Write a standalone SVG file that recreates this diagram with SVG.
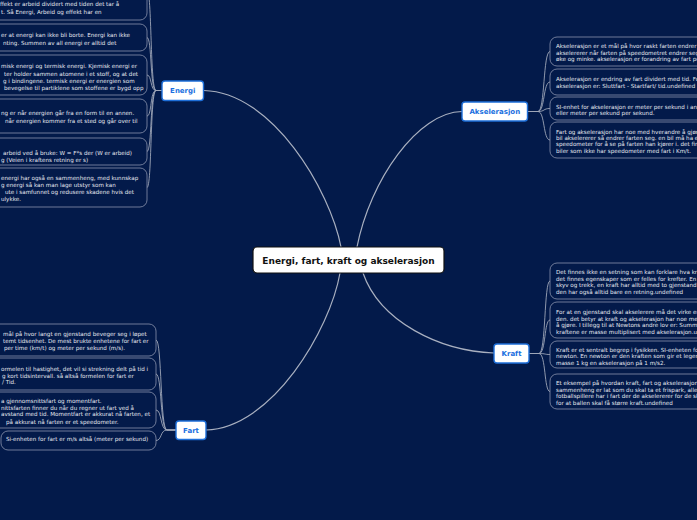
<svg xmlns="http://www.w3.org/2000/svg" width="697" height="520" viewBox="0 0 697 520">
<style>
.bg{fill:#031a4a}
.leaf{fill:none;stroke:#8a93ad;stroke-width:0.8}
.lt{font-family:"DejaVu Sans",Verdana,sans-serif;font-size:5.6px;fill:#e6e9f0}
.con{fill:none;stroke:#9ea6b8;stroke-width:0.9}
.main{fill:none;stroke:#a9b0c0;stroke-width:1.2}
.bn{fill:#ffffff;stroke:#1e6fd9;stroke-width:1.4}
.bt{font-family:"DejaVu Sans",Verdana,sans-serif;font-size:7px;font-weight:bold;fill:#1a6fe0;text-anchor:middle}
.ct{font-family:"DejaVu Sans",Verdana,sans-serif;font-size:9px;font-weight:bold;fill:#111111;text-anchor:middle}
</style>
<rect class="bg" x="0" y="0" width="697" height="520"/>

<g id="connectors">
  <path class="main" d="M204,90.5 C272,92 330,190 341,247"/>
  <path class="main" d="M462,111.5 C418,112 370,180 357,247"/>
  <path class="main" d="M206,430 C272,428 330,330 340,273"/>
  <path class="main" d="M494,353 C440,351 380,322 363,273"/>
  <!-- Energi leaves -->
  <path class="con" d="M162,90.5 H156 C150,90.5 152,-10 147,-10"/>
  <path class="con" d="M162,90.5 H156 C150,90.5 152,37.5 147,37.5"/>
  <path class="con" d="M162,90.5 H156 C150,90.5 152,75 147,75"/>
  <path class="con" d="M162,90.5 H156 C150,90.5 152,116 147,116"/>
  <path class="con" d="M162,90.5 H156 C150,90.5 152,151.5 147,151.5"/>
  <path class="con" d="M162,90.5 H156 C150,90.5 152,187.5 147,187.5"/>
  <!-- Fart leaves -->
  <path class="con" d="M176,430 H167 C160,430 162,340 156,340"/>
  <path class="con" d="M176,430 H167 C160,430 162,374 156,374"/>
  <path class="con" d="M176,430 H167 C160,430 162,410 156,410"/>
  <path class="con" d="M176,430 H167 C160,430 162,440.5 156,440.5"/>
  <!-- Akselerasjon leaves -->
  <path class="con" d="M528,111.5 H538 C545,111.5 543,51.5 550,51.5"/>
  <path class="con" d="M528,111.5 H538 C545,111.5 543,82 550,82"/>
  <path class="con" d="M528,111.5 H538 C545,111.5 543,108.5 550,108.5"/>
  <path class="con" d="M528,111.5 H538 C545,111.5 543,140 550,140"/>
  <!-- Kraft leaves -->
  <path class="con" d="M529,353.5 H539 C546,353.5 544,281 550,281"/>
  <path class="con" d="M529,353.5 H539 C546,353.5 544,320 550,320"/>
  <path class="con" d="M529,353.5 H539 C546,353.5 544,354.5 550,354.5"/>
  <path class="con" d="M529,353.5 H539 C546,353.5 544,391.5 550,391.5"/>
</g>

<g id="center">
  <rect x="253" y="247" width="191" height="26" rx="4" fill="#ffffff" stroke="#111111" stroke-width="1.2"/>
  <text class="ct" x="348.5" y="263.5">Energi, fart, kraft og akselerasjon</text>
</g>

<g id="energi">
  <rect class="bn" x="162" y="81" width="41.5" height="19.5" rx="3"/>
  <text class="bt" x="182.8" y="93">Energi</text>
</g>
<g id="akselerasjon">
  <rect class="bn" x="462" y="102" width="65.5" height="19" rx="3"/>
  <text class="bt" x="494.8" y="114">Akselerasjon</text>
</g>
<g id="fart">
  <rect class="bn" x="176" y="421" width="30" height="18.5" rx="3"/>
  <text class="bt" x="191" y="432.8">Fart</text>
</g>
<g id="kraft">
  <rect class="bn" x="494" y="344" width="35" height="19" rx="3"/>
  <text class="bt" x="511.5" y="356">Kraft</text>
</g>

<!-- Energi leaves -->
<g id="energi-1">
  <rect class="leaf" x="-30" y="-40" width="177" height="60" rx="7"/>
  <text class="lt" x="0" y="6">ffekt er arbeid dividert med tiden det tar å</text>
  <text class="lt" x="1" y="14">t. Så Energi, Arbeid og effekt har en</text>
</g>
<g id="energi-2">
  <rect class="leaf" x="-30" y="24" width="177" height="27" rx="7"/>
  <text class="lt" x="1" y="37">er at energi kan ikke bli borte. Energi kan ikke</text>
  <text class="lt" x="3" y="44.5">nting. Summen av all energi er alltid det</text>
</g>
<g id="energi-3">
  <rect class="leaf" x="-30" y="55" width="177" height="40" rx="7"/>
  <text class="lt" x="1" y="68">misk energi og termisk energi. Kjemisk energi er</text>
  <text class="lt" x="4" y="75.5">ter holder sammen atomene i et stoff, og at det</text>
  <text class="lt" x="3" y="83">g i bindingene. termisk energi er energien som</text>
  <text class="lt" x="4" y="90.3">bevegelse til partiklene som stoffene er bygd opp</text>
</g>
<g id="energi-4">
  <rect class="leaf" x="-30" y="99" width="177" height="34" rx="7"/>
  <text class="lt" x="1" y="115">ng er når energien går fra en form til en annen.</text>
  <text class="lt" x="5" y="123">når energien kommer fra et sted og går over til</text>
</g>
<g id="energi-5">
  <rect class="leaf" x="-30" y="138" width="177" height="27" rx="7"/>
  <text class="lt" x="3" y="155">arbeid ved å bruke: W = F*s der (W er arbeid)</text>
  <text class="lt" x="1" y="161.5">g (Veien i kraftens retning er s)</text>
</g>
<g id="energi-6">
  <rect class="leaf" x="-30" y="168" width="177" height="39" rx="7"/>
  <text class="lt" x="1" y="180">energi har også en sammenheng, med kunnskap</text>
  <text class="lt" x="1" y="187">g energi så kan man lage utstyr som kan</text>
  <text class="lt" x="5" y="194">ute i samfunnet og redusere skadene hvis det</text>
  <text class="lt" x="1" y="201">ulykke.</text>
</g>

<!-- Fart leaves -->
<g id="fart-1">
  <rect class="leaf" x="-30" y="324" width="186" height="32" rx="7"/>
  <text class="lt" x="3" y="335.5">mål på hvor langt en gjenstand beveger seg i løpet</text>
  <text class="lt" x="3" y="342.5">temt tidsenhet. De mest brukte enhetene for fart er</text>
  <text class="lt" x="4" y="349.5">per time (km/t) og meter per sekund (m/s).</text>
</g>
<g id="fart-2">
  <rect class="leaf" x="-30" y="358" width="186" height="32" rx="7"/>
  <text class="lt" x="1" y="371">ormelen til hastighet, det vil si strekning delt på tid i</text>
  <text class="lt" x="2" y="377.5">g kort tidsintervall. så altså formelen for fart er</text>
  <text class="lt" x="2" y="384">/ Tid.</text>
</g>
<g id="fart-3">
  <rect class="leaf" x="-30" y="392" width="186" height="36" rx="7"/>
  <text class="lt" x="1" y="402.7">a gjennomsnittsfart og momentfart.</text>
  <text class="lt" x="1" y="409.7">nittsfarten finner du når du regner ut fart ved å</text>
  <text class="lt" x="1" y="416.3">avstand med tid. Momentfart er akkurat nå farten, et</text>
  <text class="lt" x="6" y="423.7">på akkurat nå farten er et speedometer.</text>
</g>
<g id="fart-4">
  <rect class="leaf" x="1" y="431" width="155" height="19" rx="7"/>
  <text class="lt" x="6" y="441.3">Si-enheten for fart er m/s altså (meter per sekund)</text>
</g>

<!-- Akselerasjon leaves -->
<g id="aks-1">
  <rect class="leaf" x="550" y="37" width="200" height="29" rx="7"/>
  <text class="lt" x="556" y="48">Akselerasjon er et mål på hvor raskt farten endrer s</text>
  <text class="lt" x="556" y="54.7">akselererer når farten på speedometret endrer seg</text>
  <text class="lt" x="556" y="61.3">øke og minke. akselerasjon er forandring av fart pe</text>
</g>
<g id="aks-2">
  <rect class="leaf" x="550" y="69" width="200" height="26" rx="7"/>
  <text class="lt" x="556" y="81.3">Akselerasjon er endring av fart dividert med tid. Fo</text>
  <text class="lt" x="556" y="88">akselerasjon er: Sluttfart - Startfart/ tid.undefined</text>
</g>
<g id="aks-3">
  <rect class="leaf" x="550" y="97" width="200" height="23" rx="7"/>
  <text class="lt" x="556" y="108.7">SI-enhet for akselerasjon er meter per sekund i ann</text>
  <text class="lt" x="556" y="115.3">eller meter per sekund per sekund.</text>
</g>
<g id="aks-4">
  <rect class="leaf" x="550" y="122" width="200" height="36" rx="7"/>
  <text class="lt" x="556" y="133.7">Fart og akselerasjon har noe med hverandre å gjøre</text>
  <text class="lt" x="556" y="139.7">bil akselererer så endrer farten seg. en bil må ha et</text>
  <text class="lt" x="556" y="146">speedometer for å se på farten han kjører i. det fin</text>
  <text class="lt" x="556" y="152.7">biler som ikke har speedometer med fart i Km/t.</text>
</g>

<!-- Kraft leaves -->
<g id="kraft-1">
  <rect class="leaf" x="550" y="263" width="200" height="36" rx="7"/>
  <text class="lt" x="556" y="274">Det finnes ikke en setning som kan forklare hva kr</text>
  <text class="lt" x="556" y="280.7">det finnes egenskaper som er felles for krefter. En</text>
  <text class="lt" x="556" y="287.3">skyv og trekk, en kraft har alltid med to gjenstand</text>
  <text class="lt" x="556" y="294">den har også alltid bare en retning.undefined</text>
</g>
<g id="kraft-2">
  <rect class="leaf" x="550" y="302" width="200" height="36" rx="7"/>
  <text class="lt" x="556" y="314">For at en gjenstand skal akselerere må det virke en</text>
  <text class="lt" x="556" y="320.7">den. det betyr at kraft og akselerasjon har noe me</text>
  <text class="lt" x="556" y="327.3">å gjøre. I tillegg til at Newtons andre lov er: Summ</text>
  <text class="lt" x="556" y="334">kraftene er masse multiplisert med akselerasjon.un</text>
</g>
<g id="kraft-3">
  <rect class="leaf" x="550" y="341" width="200" height="27" rx="7"/>
  <text class="lt" x="556" y="352">Kraft er et sentralt begrep i fysikken. SI-enheten fo</text>
  <text class="lt" x="556" y="358">newton. En newton er den kraften som gir et legem</text>
  <text class="lt" x="556" y="364.7">masse 1 kg en akselerasjon på 1 m/s2.</text>
</g>
<g id="kraft-4">
  <rect class="leaf" x="550" y="374" width="200" height="35" rx="7"/>
  <text class="lt" x="556" y="385.3">Et eksempel på hvordan kraft, fart og akselerasjon</text>
  <text class="lt" x="556" y="392">sammenheng er lat som du skal ta et frispark, alle</text>
  <text class="lt" x="556" y="398">fotballspillere har i fart der de akselererer for de sk</text>
  <text class="lt" x="556" y="404.7">for at ballen skal få større kraft.undefined</text>
</g>
</svg>
